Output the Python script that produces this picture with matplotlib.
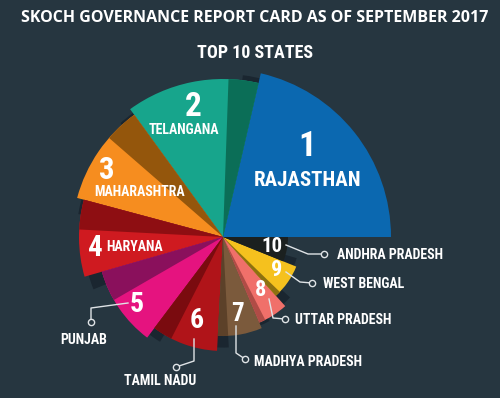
import matplotlib
matplotlib.use('Agg')
import matplotlib.pyplot as plt
from matplotlib import font_manager
import numpy as np

# ranking data (angular span in degrees and radius of each petal)
ranks = ['1', '2', '3', '4', '5', '6', '7', '8', '9', '10']
states = ['RAJASTHAN', 'TELANGANA', 'MAHARASHTRA', 'HARYANA', 'PUNJAB',
          'TAMIL NADU', 'MADHYA PRADESH', 'UTTAR PRADESH', 'WEST BENGAL', 'ANDHRA PRADESH']
spans = [77, 49, 39, 31, 37, 34, 26, 19, 26, 22]
radii = [168, 158, 151, 144, 126, 114, 99, 93, 79, 65]

colors = ['#0b68b0', '#17a58c', '#f68d1f', '#cf1a20', '#e5137f',
          '#b01419', '#7b5a3c', '#f0706a', '#f5c11e', '#1b201f']
dark_colors = ['#0a5a9c', '#0b6e57', '#94560c', '#8e0e12', '#8a105c',
               '#7a0b0f', '#5c4129', '#b04c46', '#8c7010', '#1b201f']
shade = [0, 11, 13, 12, 14, 10, 6, 4, 4, 0]

BG = '#263640'
SHADOW = '#1a2630'
W, H = 500, 398

names = {f.name for f in font_manager.fontManager.ttflist}
COND = 'DejaVu Sans'
for cand in ['Roboto Condensed', 'Liberation Sans Narrow', 'DejaVu Sans Condensed']:
    if cand in names:
        COND = cand
        break

fig = plt.figure(figsize=(5, 3.98), dpi=100)
fig.patch.set_facecolor(BG)

# polar axes centred on the pie centre
cx, cy, RMAX = 223, 237, 180
axp = fig.add_axes([(cx - RMAX) / W, (H - cy - RMAX) / H, 2 * RMAX / W, 2 * RMAX / H],
                   projection='polar')
axp.set_ylim(0, RMAX)
axp.axis('off')

starts = np.cumsum([0] + spans[:-1])
th0 = np.radians(starts)
wid = np.radians(spans)

# 3d-ish drop shadow, rotated a little
axp.bar(th0 + np.radians(6), np.array(radii) * 0.97, width=wid, align='edge',
        color=SHADOW, linewidth=0)
axp.bar(th0, radii, width=wid, align='edge', color=colors, linewidth=0)
axp.bar(th0, radii, width=np.radians(shade), align='edge', color=dark_colors, linewidth=0)

# overlay for text in pixel coords
ax = fig.add_axes([0, 0, 1, 1])
ax.set_xlim(0, W)
ax.set_ylim(H, 0)
ax.axis('off')

ax.text(255, 18, 'SKOCH GOVERNANCE REPORT CARD AS OF SEPTEMBER 2017', ha='center', va='center',
        color='white', fontsize=11.5, fontweight='bold', family='Open Sans')
ax.text(255, 53, 'TOP 10 STATES', ha='center', va='center', color='white',
        fontsize=13, fontweight='bold', family=COND)

num_pos = [(307, 147), (193, 107), (107, 170), (95, 248), (137, 305),
           (197, 320), (237, 314), (260, 290), (277, 270), (272, 247)]
num_size = [25, 24, 22, 21, 20, 20, 18, 16, 16, 15]
name_pos = [(308, 180), (184, 130), (140, 192), (135, 247), (84, 340),
            (160, 381), (254, 362), (295, 320), (323, 284), (337, 255)]
name_ha = ['center'] * 6 + ['left'] * 4
name_size = [15, 10, 10, 10, 10, 10, 10, 10, 10, 10]

for i in range(len(ranks)):
    nx, ny = num_pos[i]
    ax.text(nx, ny, ranks[i], ha='center', va='center', color='white', fontsize=num_size[i],
            fontweight='bold', family=COND)
    lx, ly = name_pos[i]
    ax.text(lx, ly, states[i], ha=name_ha[i], va='center', color='white', fontsize=name_size[i],
            fontweight='bold', family=COND)

leaders = [
    [(286, 245), (308, 254), (324, 254)],
    [(286, 272), (300, 282), (312, 283)],
    [(269, 299), (273, 318), (285, 319)],
    [(236, 326), (236, 353), (245, 359)],
    [(194, 339), (194, 361), (176, 367)],
    [(128, 303), (91, 308), (91, 322)],
]
for pts in leaders:
    xs, ys = zip(*pts)
    ax.plot(xs, ys, color='#dfe3e6', lw=1)
    ax.plot(xs[-1], ys[-1], 'o', mfc=BG, mec='#dfe3e6', ms=4.5, mew=1)

fig.savefig('out.png', dpi=100, facecolor=BG)
